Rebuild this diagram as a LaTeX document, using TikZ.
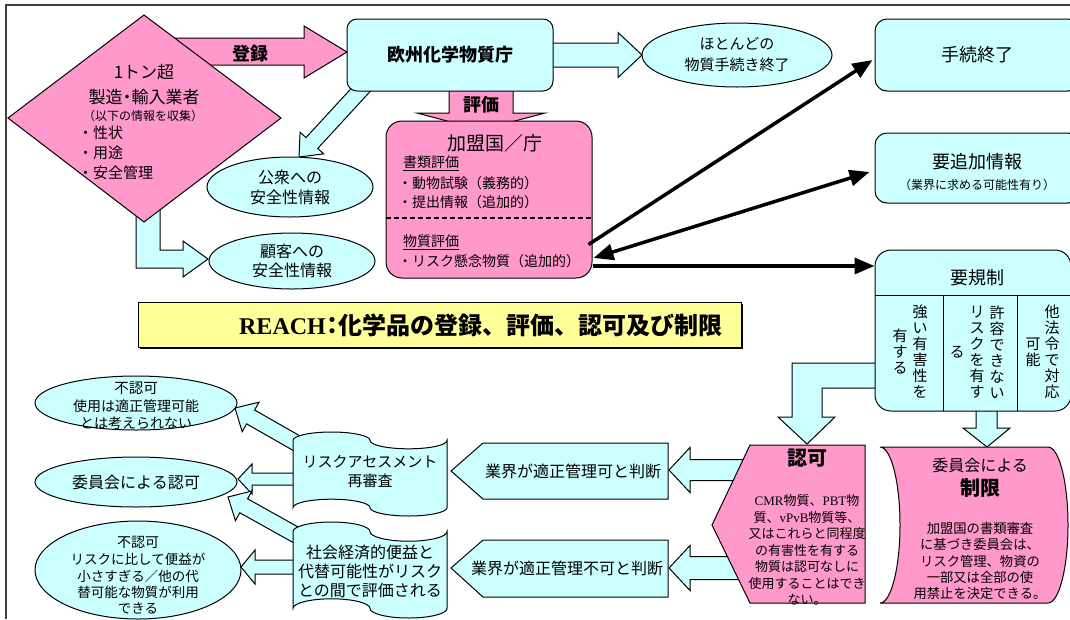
\documentclass[tikz,border=0pt]{standalone}
\usepackage{fontspec}
\setmainfont{Noto Sans CJK JP}
\newfontfamily\serifL{Liberation Serif}
\usetikzlibrary{arrows.meta,calc,shapes.geometric}
\definecolor{pinkc}{HTML}{FF99CC}
\definecolor{cyanc}{HTML}{CCFFFF}
\definecolor{yellowc}{HTML}{FFFF99}
\definecolor{framec}{HTML}{404040}
% block arrow: style, start, end, half body, half head, head length
\newcommand{\barrow}[6]{%
  \coordinate (bA) at (#2);
  \coordinate (bB) at (#3);
  \coordinate (bH) at ($(bB)!#6!(bA)$);
  \draw[#1] ($(bA)!#4!90:(bB)$) -- ($(bH)!#4!-90:(bA)$) -- ($(bH)!#5!-90:(bA)$) -- (bB)
    -- ($(bH)!#5!90:(bA)$) -- ($(bH)!#4!90:(bA)$) -- ($(bA)!#4!-90:(bB)$) -- cycle;}
% punched tape: style, x0, y0, w, h
\newcommand{\punchtape}[5]{%
  \pgfmathsetmacro\ptr{#5/10}%
  \pgfmathsetmacro\ptk{0.5523}%
  \draw[#1] ({#2},{#3+\ptr})
   .. controls ({#2},{#3+\ptr-\ptk*\ptr}) and ({#2+#4/4-\ptk*#4/4},{#3}) .. ({#2+#4/4},{#3})
   .. controls ({#2+#4/4+\ptk*#4/4},{#3}) and ({#2+#4/2},{#3+\ptr-\ptk*\ptr}) .. ({#2+#4/2},{#3+\ptr})
   .. controls ({#2+#4/2},{#3+\ptr+\ptk*\ptr}) and ({#2+3*#4/4-\ptk*#4/4},{#3+2*\ptr}) .. ({#2+3*#4/4},{#3+2*\ptr})
   .. controls ({#2+3*#4/4+\ptk*#4/4},{#3+2*\ptr}) and ({#2+#4},{#3+\ptr+\ptk*\ptr}) .. ({#2+#4},{#3+\ptr})
   -- ({#2+#4},{#3+9*\ptr})
   .. controls ({#2+#4},{#3+9*\ptr+\ptk*\ptr}) and ({#2+3*#4/4+\ptk*#4/4},{#3+10*\ptr}) .. ({#2+3*#4/4},{#3+10*\ptr})
   .. controls ({#2+3*#4/4-\ptk*#4/4},{#3+10*\ptr}) and ({#2+#4/2},{#3+9*\ptr+\ptk*\ptr}) .. ({#2+#4/2},{#3+9*\ptr})
   .. controls ({#2+#4/2},{#3+9*\ptr-\ptk*\ptr}) and ({#2+#4/4+\ptk*#4/4},{#3+8*\ptr}) .. ({#2+#4/4},{#3+8*\ptr})
   .. controls ({#2+#4/4-\ptk*#4/4},{#3+8*\ptr}) and ({#2},{#3+9*\ptr-\ptk*\ptr}) .. ({#2},{#3+9*\ptr})
   -- cycle;}
\tikzset{
  cyfill/.style={draw=black, fill=cyanc, line width=1pt},
  pkfill/.style={draw=black, fill=pinkc, line width=1pt},
  cybox/.style={draw=black, fill=cyanc, line width=1pt, rounded corners=10pt, inner sep=0pt},
  pkbox/.style={draw=black, fill=pinkc, line width=1pt, rounded corners=16pt, inner sep=0pt},
  cyell/.style={ellipse, draw=black, fill=cyanc, line width=1pt, inner sep=0pt, align=center},
  txt/.style={inner sep=0pt, align=center},
  vt/.style={inner sep=0pt, align=center, font=\fontsize{15}{16}\selectfont},
  blk/.style={line width=3.5pt, -{Triangle[length=20pt,width=16pt]}},
  blkboth/.style={line width=3.5pt, {Triangle[length=20pt,width=16pt]}-{Triangle[length=20pt,width=16pt]}}
}
\begin{document}
\begin{tikzpicture}[x=1pt,y=-1pt]
\useasboundingbox (0,0) rectangle (1070,619);
% frame
\draw[framec, line width=1.3pt] (6,619) -- (6,5) -- (1070,5);

% ---------- block arrows (under shapes) ----------
\draw[cyfill] (136,200) -- (160,200) -- (160,250) -- (183,250) -- (183,241) -- (208,259) -- (183,277) -- (183,268) -- (136,268) -- cycle;
\draw[pkfill] (160,38) -- (304,38) -- (304,26) -- (347,52) -- (304,78) -- (304,65) -- (160,65) -- cycle;
\barrow{cyfill}{368,82}{299,157}{8pt}{16pt}{19pt}
\barrow{cyfill}{545,55}{642,55}{12pt}{22.5pt}{24pt}
\draw[pkfill] (449,86) -- (513,86) -- (513,113) -- (545,113) -- (481,130) -- (417,113) -- (449,113) -- cycle;
\draw[cyfill] (880,363) -- (792,363) -- (792,417) -- (778,417) -- (807,444) -- (835,417) -- (822,417) -- (822,388) -- (880,388) -- cycle;
\draw[cyfill] (976,405) -- (997,405) -- (997,428) -- (1010,428) -- (987,447) -- (963,428) -- (976,428) -- cycle;
\barrow{cyfill}{760,470}{669,470}{10.5pt}{22.5pt}{21pt}
\barrow{cyfill}{760,568}{669,568}{11.5pt}{22.5pt}{21pt}
\barrow{cyfill}{305,448}{235,408}{8pt}{17pt}{18pt}
\barrow{cyfill}{300,479}{238,479}{6pt}{15pt}{14pt}
\barrow{cyfill}{305,540}{228,497}{8pt}{17pt}{18pt}
\barrow{cyfill}{300,567}{241,567}{7pt}{17pt}{14pt}

% ---------- shapes ----------
% diamond
\draw[pkfill] (8,118) -- (144,15) -- (281,118) -- (144,222) -- cycle;
\node[txt, font=\fontsize{17}{20}\selectfont] (d1) at (144,72) {1トン超};
\node[txt, font=\fontsize{17}{20}\selectfont] (d2) at (144,97) {製造\kern-4pt・\kern-4pt 輸入業者};
\node[txt, font=\fontsize{12}{14}\selectfont] (d3) at (143,116) {（以下の情報を収集）};
\node[txt, anchor=west, font=\fontsize{15}{18}\selectfont] (d4) at (78,133) {・性状};
\node[txt, anchor=west, font=\fontsize{15}{18}\selectfont] (d5) at (78,153) {・用途};
\node[txt, anchor=west, font=\fontsize{15}{18}\selectfont] (d6) at (78,173) {・安全管理};
\node[txt, font=\fontsize{18}{21}\selectfont\bfseries] (reg) at (250,54) {登録};

% ECHA
\node[cybox, minimum width=206pt, minimum height=72pt, font=\fontsize{18}{21}\selectfont\bfseries] (echa) at (450,55) {欧州化学物質庁};
\node[cyell, minimum width=190pt, minimum height=64pt, font=\fontsize{15}{21}\selectfont] (most) at (737,55) {ほとんどの\\物質手続き終了};
\node[txt, font=\fontsize{18}{21}\selectfont\bfseries] (hyoka) at (481,105) {評価};

% member state box
\node[pkbox, minimum width=206pt, minimum height=157pt] (kamei) at (489,199.5) {};
\node[txt, font=\fontsize{19}{22}\selectfont] (k0) at (495,143) {加盟国／庁};
\node[txt, anchor=west, font=\fontsize{14}{17}\selectfont] (ka) at (403,163) {\underline{書類評価}};
\node[txt, anchor=west, font=\fontsize{14}{17}\selectfont] (kb) at (398,183) {・動物試験（義務的）};
\node[txt, anchor=west, font=\fontsize{14}{17}\selectfont] (kc) at (398,202) {・提出情報（追加的）};
\draw[line width=1.5pt, dash pattern=on 5pt off 3pt] (386,218) -- (592,218);
\node[txt, anchor=west, font=\fontsize{14}{17}\selectfont] (kd) at (403,242) {\underline{物質評価}};
\node[txt, anchor=west, font=\fontsize{14}{17}\selectfont] (ke) at (398,261) {・リスク懸念物質（追加的）};

% public / customers
\node[cyell, minimum width=166pt, minimum height=60pt, font=\fontsize{16}{20}\selectfont] (public) at (290,187) {公衆への\\安全性情報};
\node[cyell, minimum width=166pt, minimum height=56pt, font=\fontsize{16}{19}\selectfont] (cust) at (292,261) {顧客への\\安全性情報};

% right boxes
\node[cybox, rounded corners=12pt, minimum width=205pt, minimum height=72pt, font=\fontsize{18}{21}\selectfont] (done) at (977.5,55) {手続終了};
\node[cybox, rounded corners=12pt, minimum width=205pt, minimum height=70pt] (more) at (977.5,168) {};
\node[txt, font=\fontsize{18}{21}\selectfont] (moret) at (977,162) {要追加情報};
\node[txt, font=\fontsize{12}{14}\selectfont] (mores) at (977,185) {（業界に求める可能性有り）};

% regulation box
\node[cybox, rounded corners=16pt, minimum width=196pt, minimum height=161pt] (kisei) at (973,330.5) {};
\draw[line width=1pt] (875,295) -- (1071,295) (943,295) -- (943,411) (1017,295) -- (1017,411);
\node[txt, font=\fontsize{18}{21}\selectfont] (kiseit) at (977,278) {要規制};
\node[vt] (v1) at (920,352) {強\\い\\有\\害\\性\\を};
\node[vt] (v2) at (900,352) {有\\す\\る};
\node[vt] (v3) at (997,352) {許\\容\\で\\き\\な\\い};
\node[vt] (v4) at (977,352) {リ\\ス\\ク\\を\\有\\す};
\node[vt] (v5) at (957,352) {る};
\node[vt] (v6) at (1052,352) {他\\法\\令\\で\\対\\応};
\node[vt] (v7) at (1033,352) {可\\能};

% banner
\fill[black] (140,304) rectangle (743,349);
\draw[fill=yellowc, line width=1pt] (138,302) rectangle (741,347);
\node[txt, font=\fontsize{24}{27}\selectfont\bfseries] (title) at (481,325) {{\serifL REACH}\kern-5pt：\kern-6pt 化学品の登録、評価、認可及び制限};

% authorisation
\draw[pkfill] (750,445) -- (865,445) -- (865,603) -- (750,603) -- (712,525) -- cycle;
\node[txt, font=\fontsize{20}{23}\selectfont\bfseries] (ninka) at (807,458) {認可};
\node[txt, font=\fontsize{13}{16.5}\selectfont] (ninkat) at (807,550) {{\serifL CMR}物質、{\serifL PBT}物\\質、{\serifL vPvB}物質等、\\又はこれらと同程度\\の有害性を有する\\物質は認可なしに\\使用することはでき\\ない。};

% restriction
\draw[pkfill] (880,447) -- (1048,447) .. controls (1059,447) and (1068,482) .. (1068,525) .. controls (1068,568) and (1059,603) .. (1048,603) -- (880,603) .. controls (891,603) and (900,568) .. (900,525) .. controls (900,482) and (891,447) .. (880,447) -- cycle;
\node[txt, font=\fontsize{16}{19}\selectfont] (seig1) at (980,465) {委員会による};
\node[txt, font=\fontsize{20}{23}\selectfont\bfseries] (seig2) at (980,488) {制限};
\node[txt, font=\fontsize{13.3}{16.3}\selectfont] (seigt) at (980,561) {加盟国の書類審査\\に基づき委員会は、\\リスク管理、物資の\\一部又は全部の使\\用禁止を決定できる。};

% industry judgements
\draw[cyfill] (668,443) -- (483,443) -- (451,471) -- (483,499) -- (668,499) -- cycle;
\node[txt, font=\fontsize{16}{19}\selectfont] (ind1) at (573,471) {業界が適正管理可と判断};
\draw[cyfill] (668,540) -- (483,540) -- (451,568) -- (483,597) -- (668,597) -- cycle;
\node[txt, font=\fontsize{16}{19}\selectfont] (ind2) at (567,568) {業界が適正管理不可と判断};

% punched tapes
\punchtape{cyfill}{293}{432}{154}{84}
\node[txt, font=\fontsize{15}{19}\selectfont] (ra) at (370,472) {リスクアセスメント\\再審査};
\punchtape{cyfill}{293}{522}{154}{96}
\node[txt, font=\fontsize{16}{19}\selectfont] (se) at (370,571) {社会経済的便益と\\代替可能性がリスク\\との間で評価される};

% outcome ellipses
\node[cyell, minimum width=202pt, minimum height=54pt] (no1) at (136,403) {};
\node[txt, font=\fontsize{14.5}{17}\selectfont] (no1a) at (136,388) {不認可};
\node[txt, font=\fontsize{14}{17}\selectfont] (no1b) at (136,415) {使用は適正管理可能\\とは考えられない};
\node[cyell, minimum width=202pt, minimum height=50pt, font=\fontsize{16}{19}\selectfont] (yes) at (136,482) {委員会による認可};
\node[cyell, minimum width=206pt, minimum height=98pt] (no2) at (138,570) {};
\node[txt, font=\fontsize{14}{17}\selectfont] (no2a) at (138,542) {不認可};
\node[txt, font=\fontsize{13.5}{16.3}\selectfont] (no2b) at (138,584) {リスクに比して便益が\\小さすぎる／他の代\\替可能な物質が利用\\できる};

% ---------- black arrows ----------
\coordinate (k1) at ($(kamei.east)+(-4,45)$);
\coordinate (k2) at ($(kamei.east)+(1,58.5)$);
\coordinate (k3) at ($(kamei.east)+(0,66.5)$);
\draw[blk] (k1) -- ($(done.west)+(-2,5)$);
\draw[blkboth] (k2) -- ($(more.west)+(-5,4)$);
\draw[blk] (k3) -- (k3 -| kisei.west);
\end{tikzpicture}
\end{document}
